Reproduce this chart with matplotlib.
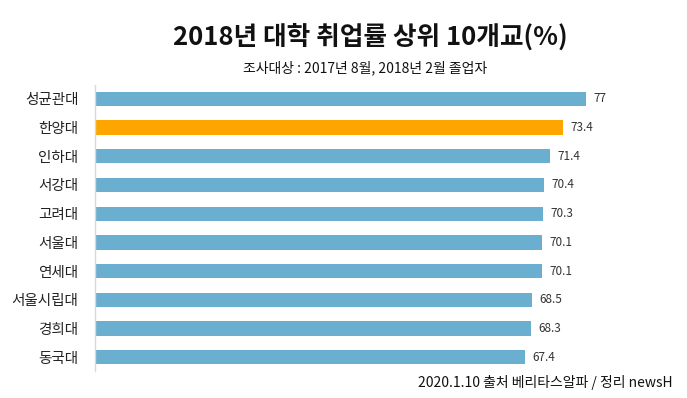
import matplotlib.pyplot as plt

plt.rcParams['font.family'] = ['Noto Sans CJK KR', 'DejaVu Sans']

schools = ['성균관대', '한양대', '인하대', '서강대', '고려대', '서울대', '연세대',
           '서울시립대', '경희대', '동국대']
rates = [77, 73.4, 71.4, 70.4, 70.3, 70.1, 70.1, 68.5, 68.3, 67.4]
rate_labels = ['77', '73.4', '71.4', '70.4', '70.3', '70.1', '70.1', '68.5', '68.3', '67.4']
highlight = '한양대'

blue = '#6aaed0'
orange = '#ffa500'
cols = [orange if s == highlight else blue for s in schools]

fig = plt.figure(figsize=(6.87, 3.98), dpi=100)
ax = fig.add_axes([95/687, 0.0668, (637-95)/687, 0.7206])

ypos = range(len(schools))
ax.barh(ypos, rates, height=0.5, color=cols)
ax.set_ylim(9.5, -0.5)
ax.set_xlim(0, 85)

for y, v, t in zip(ypos, rates, rate_labels):
    ax.text(v + 1.2, y, t, va='center', ha='left', fontsize=8.5, color='#333333')

ax.set_yticks(list(ypos))
ax.set_yticklabels(schools, fontsize=10.5, color='#222222')
ax.tick_params(axis='y', length=0, pad=12)
ax.set_xticks([])
for side in ['top', 'right', 'bottom']:
    ax.spines[side].set_visible(False)
ax.spines['left'].set_color('#d9d9d9')
ax.spines['left'].set_linewidth(1)

fig.text(370/687, 1 - 37/398, '2018년 대학 취업률 상위 10개교(%)', ha='center', va='center',
         fontsize=18.5, fontweight='bold', color='#111111')
fig.text(365/687, 1 - 68/398, '조사대상 : 2017년 8월, 2018년 2월 졸업자', ha='center', va='center',
         fontsize=10, color='#111111')
fig.text(673/687, 1 - 383/398, '2020.1.10 출처 베리타스알파 / 정리 newsH', ha='right', va='center',
         fontsize=10, color='#111111')

fig.savefig('out.png', dpi=100)
